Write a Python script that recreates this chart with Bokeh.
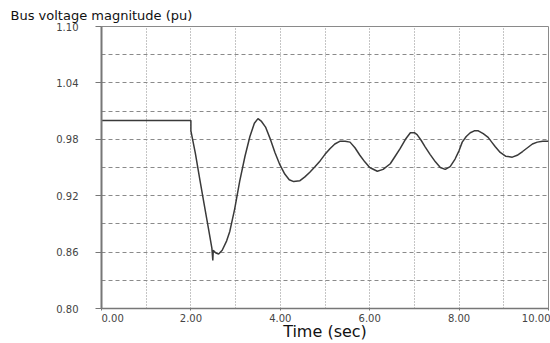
from bokeh.plotting import figure
from bokeh.models import FixedTicker, Range1d, PrintfTickFormatter
from bokeh.embed import file_html
from bokeh.resources import INLINE

# Data
time_s = [0.0, 2.0, 2.0, 2.1, 2.2, 2.3, 2.4, 2.47, 2.49, 2.5, 2.52, 2.56, 2.62,
          2.7, 2.8, 2.87, 2.98, 3.09, 3.21, 3.32, 3.42, 3.5, 3.58, 3.67, 3.77,
          3.88, 3.99, 4.1, 4.2, 4.3, 4.44, 4.55, 4.66, 4.78, 4.89, 5.0, 5.11,
          5.22, 5.34, 5.45, 5.56, 5.67, 5.78, 5.89, 6.0, 6.17, 6.3, 6.46, 6.57,
          6.68, 6.8, 6.91, 7.0, 7.06, 7.15, 7.24, 7.35, 7.47, 7.58, 7.69, 7.8,
          7.91, 8.0, 8.07, 8.16, 8.25, 8.34, 8.43, 8.54, 8.65, 8.73, 8.81, 8.92,
          9.04, 9.19, 9.3, 9.42, 9.53, 9.64, 9.75, 9.87, 10.0]
voltage_pu = [1.0, 1.0, 0.989, 0.965, 0.937, 0.910, 0.883, 0.864, 0.851, 0.862,
              0.861, 0.859, 0.858, 0.862, 0.872, 0.882, 0.906, 0.935, 0.962,
              0.983, 0.997, 1.002, 0.999, 0.993, 0.981, 0.966, 0.953, 0.943,
              0.937, 0.935, 0.936, 0.940, 0.945, 0.951, 0.957, 0.964, 0.970,
              0.975, 0.978, 0.978, 0.977, 0.971, 0.963, 0.956, 0.950, 0.946,
              0.948, 0.954, 0.962, 0.970, 0.980, 0.987, 0.987, 0.985, 0.979,
              0.972, 0.964, 0.956, 0.950, 0.948, 0.951, 0.959, 0.968, 0.977,
              0.983, 0.987, 0.989, 0.989, 0.986, 0.982, 0.977, 0.972, 0.966,
              0.962, 0.961, 0.963, 0.967, 0.971, 0.975, 0.977, 0.978, 0.978]

x_tick_values = [0, 2, 4, 6, 8, 10]
y_tick_values = [0.80, 0.86, 0.92, 0.98, 1.04, 1.10]
x_grid_values = [1, 2, 3, 4, 5, 6, 7, 8, 9]
y_grid_values = [0.83, 0.86, 0.89, 0.92, 0.95, 0.98, 1.01, 1.04, 1.07]

p = figure(width=550, height=343, output_backend="svg", toolbar_location=None,
           x_range=Range1d(0, 10), y_range=Range1d(0.80, 1.10),
           min_border_left=101, min_border_right=2, min_border_top=26,
           min_border_bottom=32)

p.title.text = "Bus voltage magnitude (pu)"
p.title.text_font = "DejaVu Sans"
p.title.text_font_size = "13px"
p.title.text_font_style = "normal"
p.title.text_color = "#111111"
p.title.align = "left"
p.title.offset = -91
p.title.standoff = 8

p.outline_line_color = "#8a8a8a"
p.outline_line_width = 1
p.background_fill_color = "white"
p.border_fill_color = "white"

# grids
p.xgrid.ticker = FixedTicker(ticks=x_grid_values)
p.ygrid.ticker = FixedTicker(ticks=y_grid_values)
p.xgrid.grid_line_color = "#8a8a8a"
p.xgrid.grid_line_dash = "1 2"
p.xgrid.grid_line_width = 1
p.ygrid.grid_line_color = "#8a8a8a"
p.ygrid.grid_line_dash = "4 3"
p.ygrid.grid_line_width = 1

# axes
p.xaxis.ticker = FixedTicker(ticks=x_tick_values)
p.yaxis.ticker = FixedTicker(ticks=y_tick_values)
p.xaxis.formatter = PrintfTickFormatter(format="%.2f")
p.yaxis.formatter = PrintfTickFormatter(format="%.2f")
# first x label sits inside the frame edge, as in the reference
p.xaxis.major_label_overrides = {0: "\u00a0" * 7 + "0.00"}
for ax in (p.xaxis, p.yaxis):
    ax.major_label_text_font = "DejaVu Sans"
    ax.major_label_text_font_size = "10px"
    ax.major_label_text_color = "#444444"
    ax.axis_line_color = "#777777"
    ax.major_tick_line_color = "#777777"
    ax.minor_tick_line_color = None
p.yaxis.axis_line_width = 2
p.xaxis.axis_line_width = 1.5
p.yaxis.major_tick_out = 6
p.yaxis.major_tick_in = 0
p.yaxis.major_label_standoff = 17
p.xaxis.major_tick_out = 2
p.xaxis.major_tick_in = 0
p.xaxis.major_label_standoff = 2
p.xaxis.axis_label = "Time (sec)"
p.xaxis.axis_label_text_font = "DejaVu Sans"
p.xaxis.axis_label_text_font_size = "16px"
p.xaxis.axis_label_text_font_style = "normal"
p.xaxis.axis_label_text_color = "#111111"
p.xaxis.axis_label_standoff = -5

p.line(time_s, voltage_pu, line_color="#3a3a3a", line_width=1.5)

open("out.html", "w").write(file_html(p, INLINE))
